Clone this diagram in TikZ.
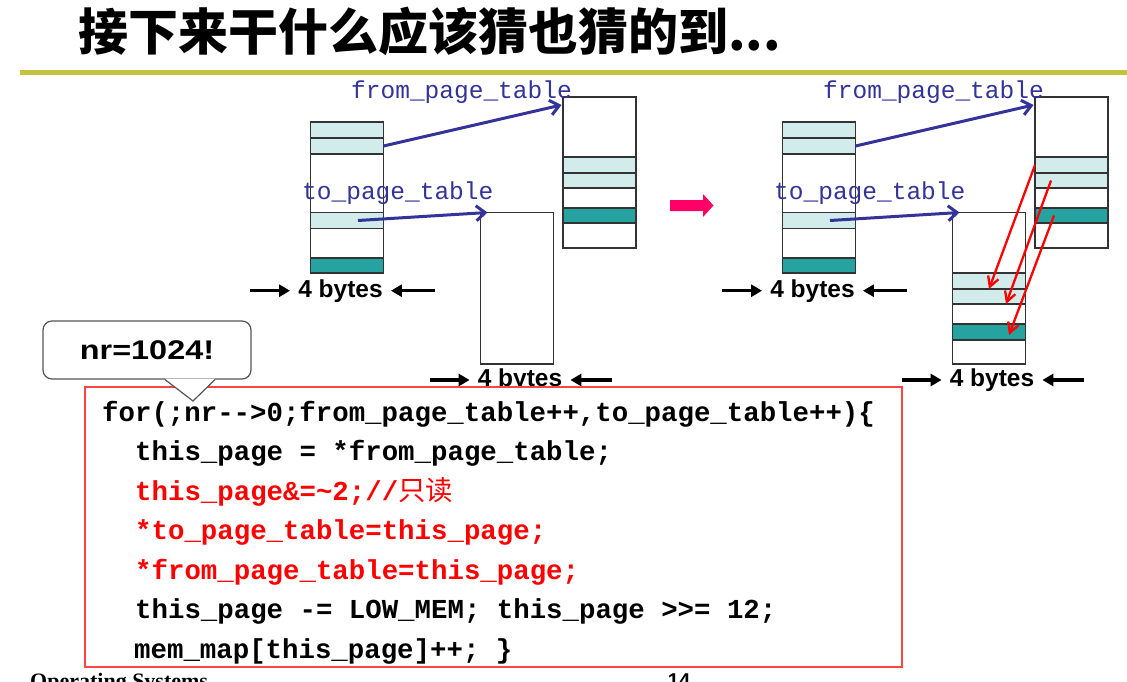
\documentclass[tikz,border=0pt]{standalone}
\usepackage{fontspec}
\setmainfont{Liberation Serif}
\setsansfont{Liberation Sans}
\setmonofont{Liberation Mono}
\newfontfamily\cjk{Noto Sans CJK SC}
\usepackage{tikz}
\usetikzlibrary{arrows.meta,positioning}
\definecolor{PTBlue}{HTML}{333399}
\definecolor{PTEdge}{HTML}{333333}
\definecolor{PTLite}{HTML}{D2EBEB}
\definecolor{PTDark}{HTML}{26A3A0}
\definecolor{PTOlive}{HTML}{C4C23E}
\definecolor{CodeRed}{HTML}{FF0000}
\definecolor{BoxRed}{HTML}{FF4444}
\definecolor{ShiftPink}{HTML}{FF0066}
\definecolor{BubbleEdge}{HTML}{555555}

\begin{document}
\begin{tikzpicture}[
  x=1pt,y=-1pt,
  tabcol/.style={draw=PTEdge,line width=1.7pt,fill=white,minimum width=73pt,inner sep=0,outer sep=0},
  liteband/.style={tabcol,fill=PTLite,minimum height=16pt},
  darkband/.style={tabcol,fill=PTDark,minimum height=16pt},
  ptlabel/.style={anchor=base west,inner sep=0,text=PTBlue,font=\ttfamily\fontsize{24.5}{26}\selectfont},
  ptarrow/.style={draw=PTBlue,line width=3pt,-{Straight Barb[length=9pt,width=15pt]}},
  copyarrow/.style={draw=CodeRed,line width=2.3pt,-{Straight Barb[length=10pt,width=11pt]}},
  sizearrow/.style={draw=black,line width=3.3pt,-{Triangle[length=11pt,width=12pt]}},
  bytes/.style={inner xsep=8pt,inner ysep=0,font=\sffamily\bfseries\fontsize{24.5}{26}\selectfont},
  codebox/.style={draw=BoxRed,line width=1.5pt,fill=white,minimum width=817pt,minimum height=280pt},
  codeline/.style={anchor=base west,inner sep=0,font=\ttfamily\bfseries\fontsize{27.4}{30}\selectfont},
  bubble/.style={draw=BubbleEdge,fill=white,rounded corners=9pt,line width=1.2pt,minimum width=208pt,minimum height=58pt,inner sep=0,font=\sffamily\bfseries\fontsize{27}{28}\selectfont}
]
\clip (0,0) rectangle (1127,682);
\fill[white] (0,0) rectangle (1127,682);

% title
\node[anchor=base west,inner sep=0,font=\cjk\bfseries\fontsize{50}{52}\selectfont] (title) at (78,51) {接下来干什么应该猜也猜的到...};
\draw[PTOlive,line width=5pt] (20,73) -- (1127,73);

% before copy
\node[tabcol,minimum height=151pt] (srcL) at (347,197.5) {};
\node[liteband] (sL1) at (347,130) {};
\node[liteband] (sL2) at (347,146) {};
\node[liteband] (sL3) at (347,220.5) {};
\node[darkband,minimum height=15pt] (sL4) at (347,265.5) {};
\node[tabcol,minimum height=151pt] (fromL) at (599.5,172.5) {};
\node[liteband] (fL1) at (599.5,165) {};
\node[liteband,minimum height=15pt] (fL2) at (599.5,180.5) {};
\node[darkband,minimum height=15pt] (fL3) at (599.5,215.5) {};
\node[tabcol,minimum height=151.5pt] (toL) at (517,288.25) {};
\node[ptlabel] (fromlblL) at (351,99) {from\_page\_table};
\node[ptlabel] (tolblL) at (302,199) {to\_page\_table};
\draw[ptarrow] (sL2.east) -- ([shift={(-1.5,8)}]fromL.north west);
\draw[ptarrow] ([shift={(11,0)}]sL3.center) -- ([shift={(7,0)}]toL.north west);
\node[bytes] (bytesSL) at (340.5,290.7) {4 bytes};
\draw[sizearrow] ([xshift=-40pt]bytesSL.west) -- (bytesSL.west);
\draw[sizearrow] ([xshift=44pt]bytesSL.east) -- (bytesSL.east);
\node[bytes] (bytesTL) at (520,380) {4 bytes};
\draw[sizearrow] ([xshift=-40pt]bytesTL.west) -- (bytesTL.west);
\draw[sizearrow] ([xshift=42pt]bytesTL.east) -- (bytesTL.east);

\fill[ShiftPink] (670,200) -- (703,200) -- (703,194) -- (713.5,205.5) -- (703,217) -- (703,211) -- (670,211) -- cycle;

% after copy
\begin{scope}[xshift=472pt]
\node[tabcol,minimum height=151pt] (srcR) at (347,197.5) {};
\node[liteband] (sR1) at (347,130) {};
\node[liteband] (sR2) at (347,146) {};
\node[liteband] (sR3) at (347,220.5) {};
\node[darkband,minimum height=15pt] (sR4) at (347,265.5) {};
\node[tabcol,minimum height=151pt] (fromR) at (599.5,172.5) {};
\node[liteband] (fR1) at (599.5,165) {};
\node[liteband,minimum height=15pt] (fR2) at (599.5,180.5) {};
\node[darkband,minimum height=15pt] (fR3) at (599.5,215.5) {};
\node[tabcol,minimum height=151.5pt] (toR) at (517,288.25) {};
\node[liteband] (tR1) at (517,281) {};
\node[liteband,minimum height=15pt] (tR2) at (517,296.5) {};
\node[darkband] (tR3) at (517,332) {};
\node[ptlabel] (fromlblR) at (351,99) {from\_page\_table};
\node[ptlabel] (tolblR) at (302,199) {to\_page\_table};
\draw[ptarrow] (sR2.east) -- ([shift={(-1.5,8)}]fromR.north west);
\draw[ptarrow] ([shift={(11,0)}]sR3.center) -- ([shift={(7,0)}]toR.north west);
\draw[copyarrow] (fR1.west) -- (tR1.south);
\draw[copyarrow] ([shift={(16,0)}]fR2.west) -- ([shift={(17,0)}]tR2.south);
\draw[copyarrow] ([shift={(19,0)}]fR3.west) -- ([shift={(20,3)}]tR3.center);
\node[bytes] (bytesSR) at (340.5,290.7) {4 bytes};
\draw[sizearrow] ([xshift=-40pt]bytesSR.west) -- (bytesSR.west);
\draw[sizearrow] ([xshift=44pt]bytesSR.east) -- (bytesSR.east);
\node[bytes] (bytesTR) at (520,380) {4 bytes};
\draw[sizearrow] ([xshift=-40pt]bytesTR.west) -- (bytesTR.west);
\draw[sizearrow] ([xshift=42pt]bytesTR.east) -- (bytesTR.east);
\end{scope}

% code
\node[codebox] (code) at (493.5,527) {};
\node[codeline] (ln1) at (102,421) {for(;nr-{}->0;from\_page\_table++,to\_page\_table++)\{};
\node[codeline] (ln2) at (135,460.5) {this\_page = *from\_page\_table;};
\node[codeline,text=CodeRed] (ln3) at (135,500) {this\_page\&=\textasciitilde 2;//{\cjk\mdseries 只读}};
\node[codeline,text=CodeRed] (ln4) at (135,539.5) {*to\_page\_table=this\_page;};
\node[codeline,text=CodeRed] (ln5) at (135,579) {*from\_page\_table=this\_page;};
\node[codeline] (ln6) at (135,618.5) {this\_page -= LOW\_MEM; this\_page >{}>= 12;};
\node[codeline] (ln7) at (134,658) {mem\_map[this\_page]++; \}};

% callout
\node[bubble] (nr) at (147,350) {\scalebox{1.2}[1]{nr=1024!}};
\coordinate (nrtip) at (193,401);
\fill[white] ([xshift=18pt,yshift=1pt]nr.south) -- (nrtip) -- ([xshift=68pt,yshift=1pt]nr.south) -- cycle;
\draw[BubbleEdge,line width=1.2pt] ([xshift=18pt]nr.south) -- (nrtip) -- ([xshift=68pt]nr.south);

% footer
\node[anchor=base west,inner sep=0,font=\rmfamily\bfseries\fontsize{22}{24}\selectfont] (course) at (30,688) {Operating Systems};
\node[anchor=base,inner sep=0,font=\sffamily\bfseries\fontsize{20}{22}\selectfont] (pageno) at (679,687) {14};
\end{tikzpicture}
\end{document}
